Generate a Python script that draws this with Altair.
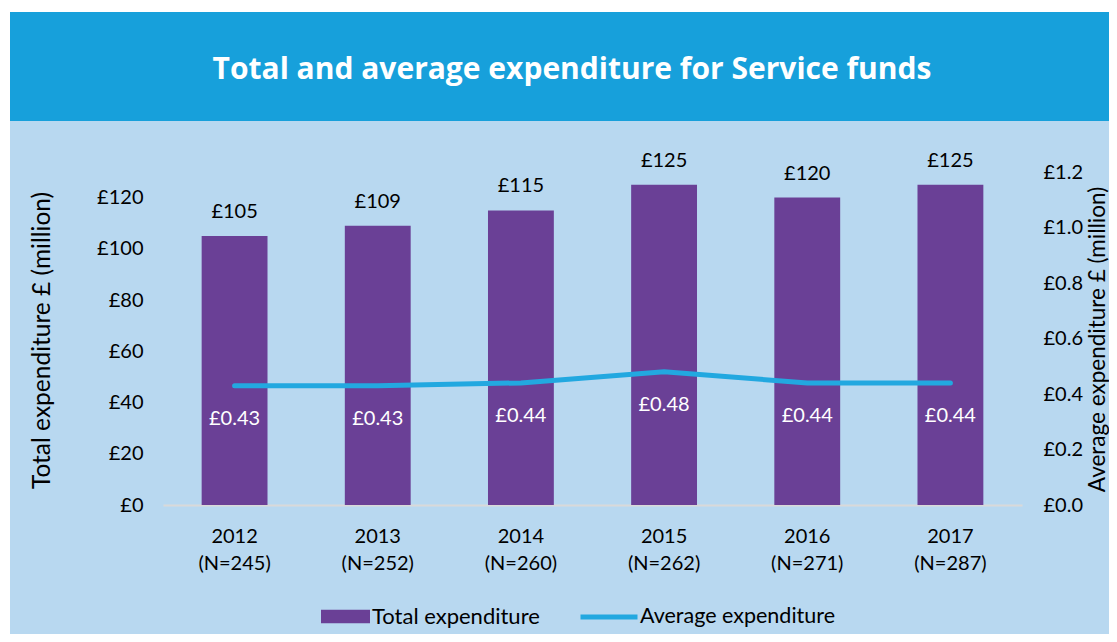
import altair as alt
import pandas as pd

# ---- data ----
years = ["2012", "2013", "2014", "2015", "2016", "2017"]
n_funds = [245, 252, 260, 262, 271, 287]
total_exp = [105, 109, 115, 125, 120, 125]          # £ million (left axis)
avg_exp = [0.43, 0.43, 0.44, 0.48, 0.44, 0.44]      # £ million (right axis)
left_ticks = [0, 20, 40, 60, 80, 100, 120]
right_ticks = [0.0, 0.2, 0.4, 0.6, 0.8, 1.0, 1.2]

TITLE = "Total and average expenditure for Service funds"
LEFT_TITLE = "Total expenditure £ (million)"
RIGHT_TITLE = "Average expenditure £ (million)"
SER1 = "Total expenditure"
SER2 = "Average expenditure"

# ---- styles ----
FONT = "Lato"
TFONT = "Open Sans"
PURPLE = "#6A4096"
LINE = "#22A8E0"
HEADER = "#17A0DB"
BG = "#B8D8F0"
W, H = 859, 333

df = pd.DataFrame({"year": years, "n": n_funds, "total": total_exp, "avg": avg_exp})
df["xlab"] = [f"{y}|(N={n})" for y, n in zip(years, n_funds)]
df["s1"] = SER1
df["s2"] = SER2
df["lab_total"] = ["£" + str(v) for v in total_exp]
df["lab_avg"] = ["£" + f"{v:.2f}" for v in avg_exp]

base = alt.Chart(df)

x_enc = alt.X(
    "xlab:N", sort=None, title=None,
    scale=alt.Scale(paddingInner=0.54, paddingOuter=0.27),
    axis=alt.Axis(labelExpr="split(datum.label, '|')", labelAngle=0, ticks=False,
                  domainColor="#D9D9D9", domainWidth=2, labelPadding=21,
                  labelFontSize=20, labelLineHeight=27, labelColor="black",
                  labelFont=FONT),
)

yl_scale = alt.Scale(domain=[0, 130], nice=False, zero=True)
yr_scale = alt.Scale(domain=[0, 1.2], nice=False, zero=True)

bars = base.mark_bar().encode(
    x=x_enc,
    y=alt.Y("total:Q", scale=yl_scale,
            axis=alt.Axis(orient="left", values=left_ticks,
                          labelExpr="'£' + datum.value", ticks=False,
                          domain=False, grid=False, labelPadding=20, labelFontSize=20,
                          labelFont=FONT, labelColor="black",
                          title=LEFT_TITLE, titleFont=FONT, titleFontSize=24.5,
                          titleFontWeight="normal", titleColor="black", titleAngle=270,
                          titleX=-114, titleY=168, titleBaseline="alphabetic")),
    color=alt.Color("s1:N", scale=alt.Scale(domain=[SER1], range=[PURPLE]),
                    legend=alt.Legend(title=None, orient="none", legendX=158, legendY=420,
                                      symbolType="M-1,-0.28L1,-0.28L1,0.28L-1,0.28Z",
                                      symbolSize=2401, symbolStrokeWidth=0,
                                      labelFont=FONT, labelFontSize=22, labelColor="black",
                                      labelOffset=2, labelLimit=0)),
)
bar_labels = base.mark_text(font=FONT, fontSize=20, color="black", baseline="middle",
                            dy=-24).encode(
    x=x_enc,
    y=alt.Y("total:Q", scale=yl_scale, axis=None),
    text="lab_total:N",
)

line = base.mark_line(strokeWidth=5, strokeCap="round").encode(
    x=x_enc,
    y=alt.Y("avg:Q", scale=yr_scale,
            axis=alt.Axis(orient="right", values=right_ticks,
                          labelExpr="'£' + format(datum.value, '.1f')", ticks=False,
                          domain=False, grid=False, labelPadding=21, labelFontSize=20,
                          labelFont=FONT, labelColor="black",
                          title=RIGHT_TITLE, titleFont=FONT, titleFontSize=22.5,
                          titleFontWeight="normal", titleColor="black", titleAngle=270,
                          titleX=82, titleY=167, titleBaseline="alphabetic")),
    stroke=alt.Stroke("s2:N", scale=alt.Scale(domain=[SER2], range=[LINE]),
                      legend=alt.Legend(title=None, orient="none", legendX=415, legendY=414,
                                        symbolType="stroke", symbolSize=3249,
                                        symbolStrokeWidth=5,
                                        labelFont=FONT, labelFontSize=21.5, labelColor="black",
                                        labelOffset=0, labelLimit=0)),
)
line_labels = base.mark_text(font=FONT, fontSize=20, color="white", baseline="middle",
                             dy=33).encode(
    x=x_enc,
    y=alt.Y("avg:Q", scale=yr_scale, axis=None),
    text="lab_avg:N",
)

# ---- decoration: header band and title ----
one = pd.DataFrame({"k": [0]})
white_top = alt.Chart(one).mark_rect(color="white").encode(
    x=alt.value(-170), x2=alt.value(970), y=alt.value(-175), y2=alt.value(-160))
white_left = alt.Chart(one).mark_rect(color="white").encode(
    x=alt.value(-170), x2=alt.value(-153), y=alt.value(-175), y2=alt.value(480))
header = alt.Chart(one).mark_rect(color=HEADER).encode(
    x=alt.value(-153), x2=alt.value(970), y=alt.value(-160), y2=alt.value(-51))
title_txt = alt.Chart(one).mark_text(font=TFONT, fontSize=30, fontWeight="bold",
                                     color="white", align="center",
                                     baseline="alphabetic").encode(
    x=alt.value(409), y=alt.value(-93), text=alt.value(TITLE))

chart = (
    alt.layer(bars, bar_labels, line, line_labels,
              white_top, white_left, header, title_txt)
    .resolve_scale(y="independent")
    .properties(width=W, height=H, background=BG,
                autosize=alt.AutoSizeParams(type="none"),
                padding={"left": 155, "top": 164, "right": 87, "bottom": 129})
    .configure_view(stroke=None)
)

chart.save("out.html", embed_options={"renderer": "svg", "actions": False})
